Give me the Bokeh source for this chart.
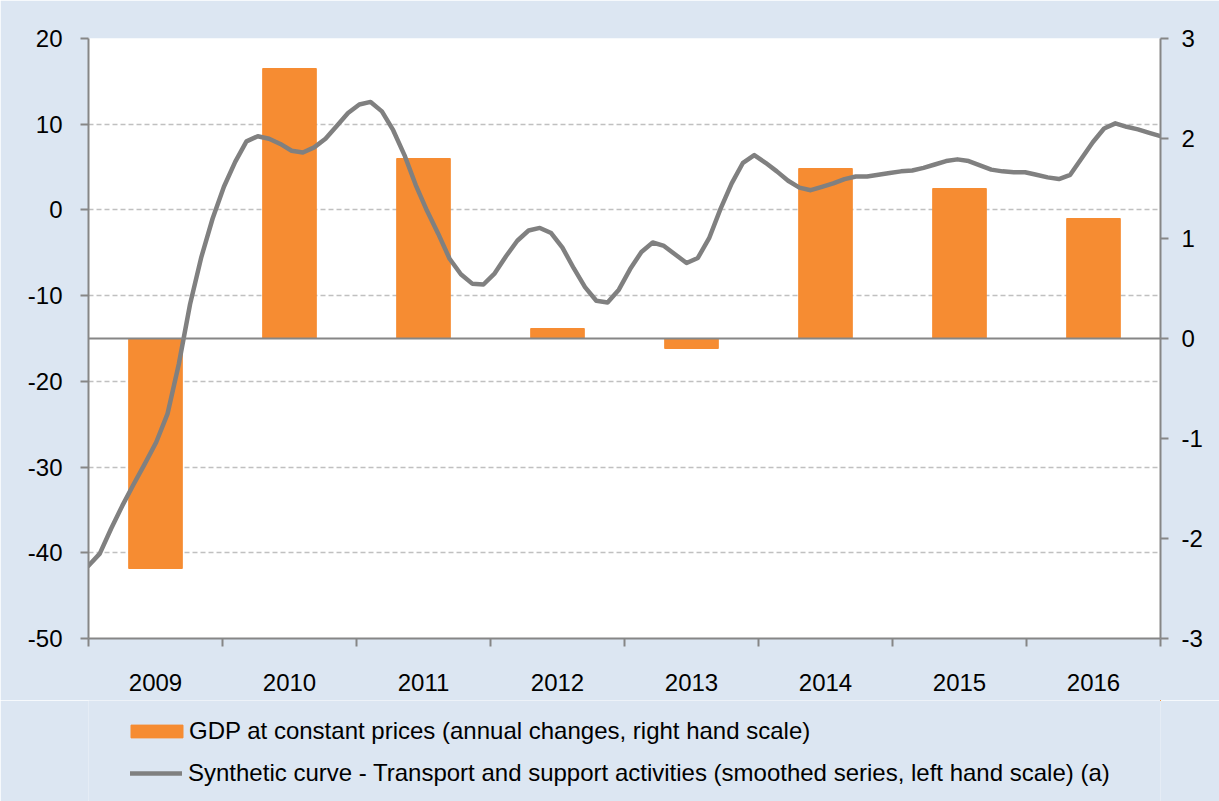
import numpy as np
from bokeh.plotting import figure
from bokeh.layouts import column
from bokeh.models import Range1d, LinearAxis, FixedTicker, Span, Legend, LegendItem
from bokeh.embed import file_html
from bokeh.resources import INLINE

# ---------------- data ----------------
years = ["2009", "2010", "2011", "2012", "2013", "2014", "2015", "2016"]

# GDP at constant prices, annual changes (right hand scale)
gdp = [-2.3, 2.7, 1.8, 0.1, -0.1, 1.7, 1.5, 1.2]

# Synthetic curve, monthly, smoothed (left hand scale)
synthetic_2009 = [-41.5, -40.1, -37.2, -34.5, -32.0, -29.6, -27.1, -23.8, -18.0, -11.0, -5.5, -1.0]
synthetic_2010 = [2.7, 5.6, 8.0, 8.6, 8.3, 7.7, 6.9, 6.7, 7.3, 8.3, 9.8, 11.3]
synthetic_2011 = [12.3, 12.6, 11.5, 9.3, 6.4, 2.9, -0.1, -2.8, -5.7, -7.5, -8.6, -8.7]
synthetic_2012 = [-7.4, -5.4, -3.6, -2.4, -2.1, -2.7, -4.4, -6.8, -9.0, -10.6, -10.8, -9.3]
synthetic_2013 = [-6.9, -4.9, -3.8, -4.2, -5.2, -6.2, -5.6, -3.3, 0.1, 3.1, 5.5, 6.4]
synthetic_2014 = [5.5, 4.5, 3.4, 2.6, 2.3, 2.7, 3.1, 3.6, 3.9, 3.9, 4.1, 4.3]
synthetic_2015 = [4.5, 4.6, 4.9, 5.3, 5.7, 5.9, 5.7, 5.2, 4.7, 4.5, 4.4, 4.4]
synthetic_2016 = [4.1, 3.8, 3.6, 4.1, 6.0, 7.9, 9.5, 10.1, 9.7, 9.4, 9.0, 8.6]
synthetic = (synthetic_2009 + synthetic_2010 + synthetic_2011 + synthetic_2012 +
             synthetic_2013 + synthetic_2014 + synthetic_2015 + synthetic_2016)

left_ticks = [-50, -40, -30, -20, -10, 0, 10, 20]
right_ticks = [-3, -2, -1, 0, 1, 2, 3]

label_gdp = "GDP at constant prices (annual changes, right hand scale)"
label_syn = "Synthetic curve - Transport and support activities (smoothed series, left hand scale) (a)"

# ---------------- styling ----------------
FONT = "Liberation Sans"
FS = "24px"
BG = "#DCE6F2"
AXIS = "#868686"
ORANGE = "#F68C32"
GRAYLINE = "#808080"

n_cat = len(years)
bar_x = np.arange(n_cat) + 0.5
line_x = np.arange(len(synthetic)) * n_cat / (len(synthetic) - 1)

# ---------------- main chart ----------------
p = figure(width=1219, height=700,
           x_range=Range1d(0, n_cat), y_range=Range1d(left_ticks[0], left_ticks[-1]),
           output_backend="svg", toolbar_location=None,
           min_border_left=88, min_border_right=59, min_border_top=38, min_border_bottom=62)
p.extra_y_ranges = {"right": Range1d(right_ticks[0], right_ticks[-1])}

p.background_fill_color = "white"
p.border_fill_color = BG
p.outline_line_color = None

# grid
p.xgrid.visible = False
p.ygrid.ticker = FixedTicker(ticks=left_ticks)
p.ygrid.grid_line_color = "#C0C0C0"
p.ygrid.grid_line_dash = "5 3"
p.ygrid.grid_line_width = 1.5

bar_style = dict(color=ORANGE)
line_style = dict(line_color=GRAYLINE, line_width=4.5, line_join="round", line_cap="round")

# bars (right scale)
bars = p.vbar(x=bar_x, top=gdp, bottom=0, width=0.4, y_range_name="right", **bar_style)

# zero line of the right scale
p.add_layout(Span(location=0, dimension="width", y_range_name="right",
                  line_color=AXIS, line_width=2))

# synthetic line (left scale)
line = p.line(x=line_x, y=synthetic, **line_style)

def style_axis(ax, standoff):
    ax.axis_line_color = AXIS
    ax.axis_line_width = 2
    ax.major_tick_line_color = AXIS
    ax.major_tick_line_width = 2
    ax.major_tick_out = 8
    ax.major_tick_in = 0
    ax.minor_tick_line_color = None
    ax.major_label_standoff = standoff
    ax.major_label_text_font = FONT
    ax.major_label_text_font_size = FS
    ax.major_label_text_color = "black"

# left axis
ya = p.yaxis[0]
ya.ticker = FixedTicker(ticks=left_ticks)
ya.major_label_overrides = {t: str(t) for t in left_ticks}
style_axis(ya, 18)

# right axis
ra = LinearAxis(y_range_name="right", ticker=FixedTicker(ticks=right_ticks))
ra.major_label_overrides = {t: str(t) for t in right_ticks}
style_axis(ra, 13)
p.add_layout(ra, "right")

# bottom axis: labels at category centres, ticks at category boundaries
xa = p.xaxis[0]
xa.ticker = FixedTicker(ticks=list(bar_x), minor_ticks=list(range(n_cat + 1)))
xa.major_label_overrides = {float(x): y for x, y in zip(bar_x, years)}
style_axis(xa, 27)
xa.major_tick_line_color = None
xa.major_tick_out = 0
xa.minor_tick_line_color = AXIS
xa.minor_tick_line_width = 2
xa.minor_tick_out = 8
xa.minor_tick_in = 0

# ---------------- legend strip ----------------
# same series, drawn outside this strip's visible range: only the legend keys show
lg = figure(width=1219, height=101, output_backend="svg", toolbar_location=None,
            x_range=Range1d(-20, -19), y_range=Range1d(-20, -19),
            x_axis_location=None, y_axis_location=None,
            min_border_left=88, min_border_right=59,
            min_border_top=0, min_border_bottom=0)
lg.background_fill_color = BG
lg.border_fill_color = BG
lg.outline_line_color = None
lg.grid.visible = False
key_bar = lg.vbar(x=bar_x, top=gdp, bottom=0, width=0.4, **bar_style)
key_line = lg.line(x=line_x, y=synthetic, **line_style)

common = dict(orientation="vertical", background_fill_alpha=0, border_line_color=None,
              padding=0, margin=0, label_height=28,
              label_text_font=FONT, label_text_font_size=FS, label_text_color="black")
leg1 = Legend(items=[LegendItem(label=label_gdp, renderers=[key_bar])],
              location=(36, 56), glyph_width=65, glyph_height=16, label_standoff=0,
              **common)
leg2 = Legend(items=[LegendItem(label=label_syn, renderers=[key_line])],
              location=(42, 14), glyph_width=52, glyph_height=16, label_standoff=6,
              **common)
lg.add_layout(leg1, "center")
lg.add_layout(leg2, "center")

layout = column(p, lg, spacing=0)
open("out.html", "w").write(file_html(layout, INLINE))
